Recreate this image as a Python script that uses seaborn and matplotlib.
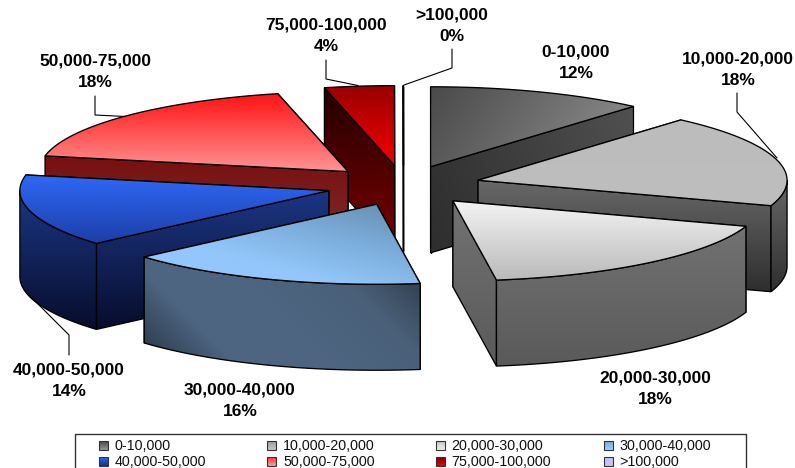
import numpy as np
import matplotlib
matplotlib.use("Agg")
import matplotlib.pyplot as plt
from matplotlib.patches import Polygon, Rectangle
import seaborn as sns

sns.set_theme(style="white")
plt.rcParams['font.family'] = ['Liberation Sans', 'DejaVu Sans']

# ---- data
categories = ["0-10,000", "10,000-20,000", "20,000-30,000", "30,000-40,000",
              "40,000-50,000", "50,000-75,000", "75,000-100,000", ">100,000"]
shares = [11.4, 18.75, 17.6, 15.8, 14.6, 18.2, 3.64, 0.01]
pct_labels = ["12%", "18%", "18%", "16%", "14%", "18%", "4%", "0%"]

# ---- pie layout (figure pixels)
CX, CY, RX, RY, DEPTH, EXPLODE = 403.5, 185.5, 309, 80, 86, 0.25
draw_order = [7, 6, 0, 1, 2, 5, 4, 3]

# (stops, gradient direction in degrees, 90 = downwards)
top_style = [
    (["#4a4a4a", "#6e6e6e", "#939393"], 35),
    (["#bcbcbc", "#bebebe"], 90),
    (["#f4f4f4", "#bababa"], 90),
    (["#668aa9", "#7aabd8", "#93c7fb", "#94c8fd"], 105),
    (["#2f68f8", "#1c3fa8"], 90),
    (["#ff1414", "#ff9494"], 90),
    (["#9a0000", "#f40000"], 90),
    (["#ffffff", "#ffffff"], 90),
]
wall_style = [
    (["#2e2e2e", "#505050"], -20),
    (["#686868", "#2e2e2e"], 90),
    (["#727272", "#5a5a5a"], 90),
    (["#263340", "#4d6580", "#4d6580", "#4a6079", "#2a3745"], -45),
    (["#1c3684", "#070d2c"], 90),
    (["#781010", "#7d3030"], 90),
    (["#240000", "#7c0000"], 90),
    (["#ffffff", "#ffffff"], 90),
]
swatch_stops = [
    ["#444444", "#999999"], ["#999999", "#c8c8c8"], ["#c4c4c4", "#f0f0f0"], ["#6fa8e0", "#9fd0ff"],
    ["#2f68f8", "#12308c"], ["#ff3030", "#ff9c9c"], ["#7a0000", "#f00000"], ["#c4c4fa", "#c4c4fa"],
]

label_pos = [(576, 52), (738, 59), (655, 378), (240, 390),
             (69, 370), (95, 61), (326, 25), (452, 15)]
LINE_GAP = 21.5
leaders = [
    [(95, 96), (95, 115), (125, 116.5)],
    [(326, 60), (326, 79), (358, 85.5)],
    [(452, 49), (452, 68), (404, 85)],
    [(737, 93), (737, 112), (777, 158)],
    [(69, 355), (69, 335), (30, 296)],
]

fig = plt.figure(figsize=(7.95, 4.68), dpi=100, facecolor="white")
ax = fig.add_axes([0, 0, 1, 1])
ax.axis("off")
ax.set_xlim(0, 795)
ax.set_ylim(468, 0)
ax.autoscale(False)

z = [10]


def shaded(points, stops, angle, lw=0.95, edge="black"):
    pts = np.asarray(points, float)
    x0, y0 = pts.min(axis=0)
    x1, y1 = pts.max(axis=0)
    x1, y1 = max(x1, x0 + 1), max(y1, y0 + 1)
    X, Y = np.meshgrid(np.linspace(x0, x1, 160), np.linspace(y0, y1, 160))
    a = np.deg2rad(angle)
    T = X * np.cos(a) + Y * np.sin(a)
    T = (T - T.min()) / max(T.max() - T.min(), 1e-9)
    cmap = sns.blend_palette(stops, as_cmap=True)
    z[0] += 1
    patch = Polygon(pts, closed=True, facecolor="none", edgecolor=edge, lw=lw,
                    zorder=z[0] + 0.5, joinstyle="miter")
    ax.add_patch(patch)
    im = ax.imshow(T, extent=(x0, x1, y1, y0), cmap=cmap, vmin=0, vmax=1,
                   aspect="auto", zorder=z[0], interpolation="bilinear")
    im.set_clip_path(patch)


edges = np.deg2rad(np.concatenate([[0], np.cumsum(shares)]) * 3.6)


def ellipse(cx, cy, th):
    return np.column_stack([cx + RX * np.sin(th), cy - RY * np.cos(th)])


for i in draw_order:
    t0, t1 = edges[i], edges[i + 1]
    mid = (t0 + t1) / 2
    cx = CX + EXPLODE * RX * np.sin(mid)
    cy = CY - EXPLODE * RY * np.cos(mid)
    th = np.linspace(t0, t1, 80)
    arc = ellipse(cx, cy, th)
    apex = np.array([cx, cy])
    down = np.array([0, DEPTH])
    wstops, wang = wall_style[i]

    # radial walls, the farther one first
    radial = sorted([arc[0], arc[-1]], key=lambda p: p[1])
    for p in radial:
        shaded([apex, p, p + down, apex + down], wstops, wang)

    # outer wall, the part that faces the viewer
    a0, a1 = max(t0, np.pi / 2), min(t1, 3 * np.pi / 2)
    if a1 > a0:
        front = ellipse(cx, cy, np.linspace(a0, a1, 60))
        shaded(np.vstack([front, (front + down)[::-1]]), wstops, wang)

    # top face
    tstops, tang = top_style[i]
    shaded(np.vstack([apex, arc]), tstops, tang)

# ---- leader lines
for seg in leaders:
    xs, ys = zip(*seg)
    ax.plot(xs, ys, color="black", lw=0.8, zorder=5 if seg[0][0] == 95 else 200)

# ---- data labels
for (x, y), name, pct in zip(label_pos, categories, pct_labels):
    ax.text(x, y, name, ha="center", va="center", fontsize=12.5,
            fontweight="bold", color="black", zorder=300)
    ax.text(x, y + LINE_GAP, pct, ha="center", va="center", fontsize=12.5,
            fontweight="bold", color="black", zorder=300)

# ---- legend box
ax.add_patch(Rectangle((75, 433.5), 671, 40, facecolor="white", edgecolor="#333333",
                       lw=1.0, zorder=310))
col_x = [103, 271.5, 440, 608]
row_y = [445.5, 461.5]
z[0] = 320
for i, name in enumerate(categories):
    x, y = col_x[i % 4], row_y[i // 4]
    shaded([(x - 4.5, y - 4.5), (x + 4.5, y - 4.5), (x + 4.5, y + 4.5), (x - 4.5, y + 4.5)],
           swatch_stops[i], 90, lw=0.8, edge="#333333")
    ax.text(x + 11.5, y, name, ha="left", va="center", fontsize=10.3, color="#111111", zorder=400)

ax.set_xlim(0, 795)
ax.set_ylim(468, 0)
fig.savefig("out.png", dpi=100, facecolor="white")
